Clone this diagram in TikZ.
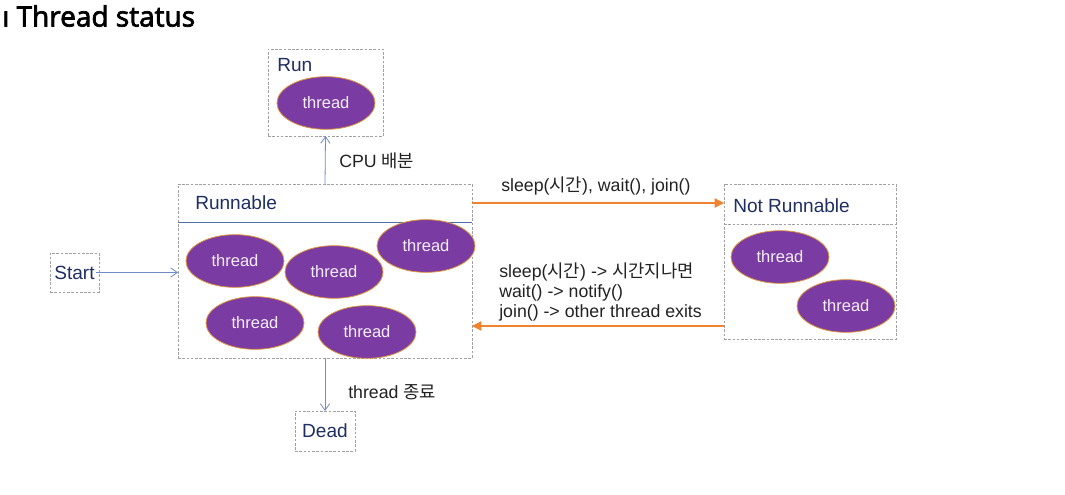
\documentclass[tikz,border=0pt]{standalone}
\usepackage{fontspec}
\setmainfont{Liberation Sans}
\newfontfamily\kr{Noto Sans CJK KR}
\newfontfamily\titlefont[FakeBold=2.5]{Open Sans}
\usetikzlibrary{arrows.meta,shapes.geometric}
\definecolor{navy}{HTML}{1F2F63}
\definecolor{bluegray}{HTML}{6F8DC4}
\definecolor{hdrline}{HTML}{4F6DA6}
\definecolor{boxgray}{HTML}{A0A0A0}
\definecolor{orangearr}{HTML}{F08330}
\definecolor{thpurple}{HTML}{7A3BA3}
\definecolor{thedge}{HTML}{E0953A}
\definecolor{labeltext}{HTML}{222222}
\tikzset{
  statebox/.style={draw=boxgray, dash pattern=on 2pt off 1.2pt, line width=0.5pt, inner sep=0pt, outer sep=0pt, anchor=north west},
  boxtitle/.style={text=navy, font=\fontsize{14.3}{16}\selectfont, inner sep=0pt, anchor=west},
  thr/.style={ellipse, fill=thpurple, draw=thedge, line width=0.6pt, minimum width=73.5pt, minimum height=39.5pt, inner sep=0pt, text=white!92!thpurple, font=\fontsize{12.4}{14}\selectfont},
  bluearrow/.style={draw=bluegray, line width=0.6pt, -{Straight Barb[length=5pt,width=7pt,line width=0.6pt]}},
  orarrow/.style={draw=orangearr, line width=1pt, -{Triangle[length=7pt,width=7pt]}},
  lbl/.style={text=labeltext, font=\fontsize{13.3}{15}\selectfont, inner sep=0pt, anchor=west},
}
\begin{document}
\begin{tikzpicture}[x=0.75pt,y=-0.75pt]
\useasboundingbox[fill=white] (0,0) rectangle (1065,495);
% title
\node[anchor=west, inner sep=0pt, font=\titlefont\fontsize{21}{24}\selectfont] (title) at (2,16) {ı Thread status};
% boxes
\node[statebox, minimum width=86.25pt, minimum height=65.25pt] (run) at (268,49) {};
\node[statebox, minimum width=220.5pt, minimum height=130.5pt] (runnable) at (178,184) {};
\node[statebox, minimum width=129pt, minimum height=116.25pt] (notrun) at (724,184) {};
\node[statebox, minimum width=36.75pt, minimum height=29.25pt] (start) at (50,253) {};
\node[statebox, minimum width=45pt, minimum height=30pt] (dead) at (295,411) {};
% header lines
\draw[hdrline, line width=0.6pt] ([yshift=-28.5pt]runnable.north west) -- ([yshift=-28.5pt]runnable.north east);
\draw[boxgray, dash pattern=on 2pt off 1.2pt, line width=0.5pt] ([yshift=-30pt]notrun.north west) -- ([yshift=-30pt]notrun.north east);
% titles
\node[boxtitle] (runT) at (277,65) {Run};
\node[boxtitle] (runnableT) at (195,203) {Runnable};
\node[boxtitle] (notrunT) at (733,206) {Not Runnable};
\node[boxtitle, anchor=center] (startT) at (start.center) {Start};
\node[boxtitle, anchor=center] (deadT) at (dead.center) {Dead};
% threads
\node[thr] (t0) at (326,103) {thread};
\node[thr] (t1) at (235,261) {thread};
\node[thr] (t2) at (334,272) {thread};
\node[thr] (t3) at (426,246) {thread};
\node[thr] (t4) at (255,323) {thread};
\node[thr] (t5) at (367,332) {thread};
\node[thr] (t6) at (780,257) {thread};
\node[thr] (t7) at (846,306) {thread};
% connectors
\draw[bluearrow] (runnable.north) -- (run.south);
\draw[bluearrow] (runnable.south) -- (dead.north);
\draw[bluearrow] ([xshift=-2pt]start.east) -- (start.east -| runnable.west);
\coordinate (topL) at ([yshift=-14.25pt]runnable.north east);
\draw[orarrow] (topL) -- (topL -| notrun.west);
\coordinate (botR) at ([yshift=9.75pt]notrun.south west);
\draw[orarrow] (botR) -- (botR -| runnable.east);
% labels
\node[lbl] (cpu) at (339,161) {CPU {\kr 배분}};
\node[lbl] (end) at (348,392) {thread {\kr 종료}};
\node[lbl] (to) at (501,186) {sleep({\kr 시간}), wait(), join()};
\node[lbl, anchor=north west, align=left, font=\fontsize{13.3}{14.8}\selectfont] (back) at (499,263) {sleep({\kr 시간}) -> {\kr 시간지나면}\\wait() -> notify()\\join() -> other thread exits};
\end{tikzpicture}
\end{document}
